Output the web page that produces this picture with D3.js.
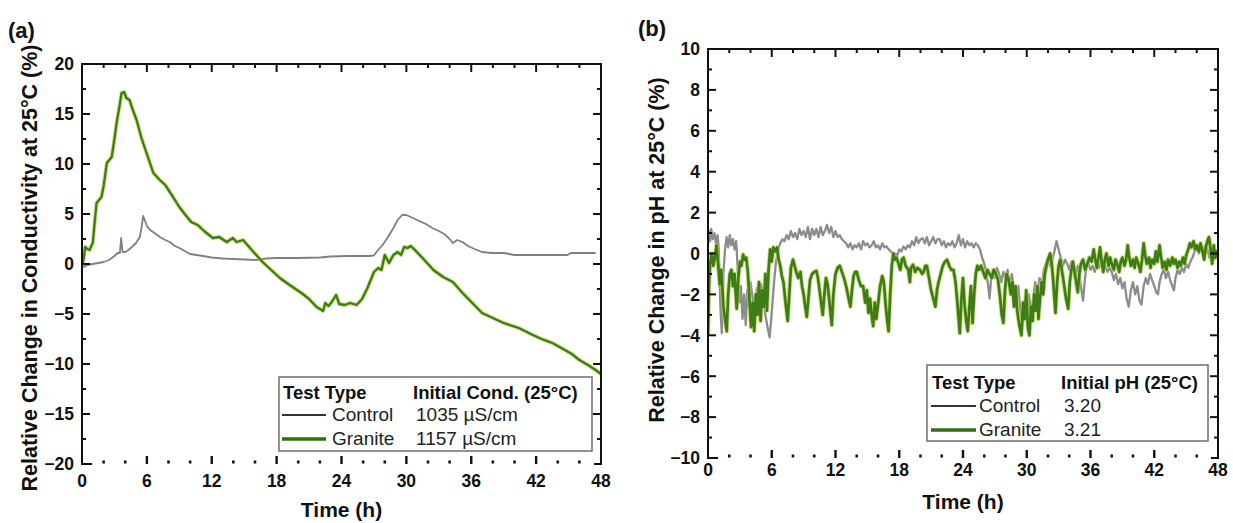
<!DOCTYPE html>
<html>
<head>
<meta charset="utf-8">
<script src="https://cdn.jsdelivr.net/npm/d3@7"></script>
<style>
  body { margin: 0; background: #fff; }
  svg { display: block; font-family: "Liberation Sans", Arial, Helvetica, sans-serif; }
</style>
</head>
<body>
<svg id="chart" width="1233" height="523"></svg>
<script>
// ---- tick values ----
const hourTicks = [0, 6, 12, 18, 24, 30, 36, 42, 48];
const condTicks = [20, 15, 10, 5, 0, -5, -10, -15, -20];
const phTicks = [10, 8, 6, 4, 2, 0, -2, -4, -6, -8, -10];

// ---- (a) relative change in conductivity, [time h, %] ----
const condControl = [
  [0,0.0],[0.2,-0.3],[0.5,-0.1],[1.0,0.0],[1.5,0.1],[2.0,0.2],[2.5,0.4],[3.0,0.8],[3.3,1.1],[3.5,1.1],
  [3.62,2.6],[3.75,1.2],[4.0,1.2],[4.3,1.4],[4.6,1.7],[5.0,2.1],[5.35,2.7],[5.5,3.6],[5.66,4.8],[5.8,4.4],
  [6.0,3.8],[6.3,3.4],[6.7,3.1],[7.2,2.7],[7.7,2.4],[8.1,2.2],[8.6,1.8],[9.0,1.6],[9.5,1.3],[10.0,1.0],
  [10.6,0.9],[11.2,0.8],[12.0,0.65],[13.0,0.55],[14.0,0.5],[15.0,0.45],[16.1,0.4],[17.0,0.55],[18.0,0.6],
  [20.0,0.6],[22.0,0.65],[23.0,0.75],[24.5,0.8],[26.5,0.8],[27.0,0.85],[27.3,1.3],[27.8,1.9],[28.3,2.7],
  [28.8,3.6],[29.2,4.4],[29.6,4.9],[30.0,4.9],[30.6,4.6],[31.2,4.3],[31.8,4.0],[32.4,3.6],[33.0,3.3],
  [33.5,3.0],[34.0,2.5],[34.3,2.1],[34.7,2.4],[35.2,2.2],[35.7,1.8],[36.3,1.5],[37.0,1.2],[37.9,1.1],
  [39.0,1.1],[39.5,1.0],[40.0,0.9],[42.0,0.9],[44.0,0.9],[44.9,0.9],[45.2,1.1],[46.5,1.1],[47.5,1.1]
];
const condGranite = [
  [0,-0.3],[0.15,0.5],[0.3,1.7],[0.5,1.5],[0.7,1.4],[0.9,1.9],[1.0,2.1],[1.2,4.5],[1.35,6.1],[1.8,6.7],
  [2.0,7.8],[2.3,10.1],[2.75,10.7],[3.0,12.5],[3.2,14.1],[3.5,16.0],[3.66,17.1],[3.9,17.2],[4.1,16.6],
  [4.4,16.4],[4.7,15.4],[5.05,14.4],[5.5,12.6],[6.0,11.0],[6.6,9.1],[7.2,8.4],[7.7,7.9],[8.3,6.9],
  [9.0,5.7],[9.5,5.0],[10.1,4.2],[10.7,3.9],[11.4,3.2],[12.1,2.6],[12.7,2.7],[13.1,2.4],[13.4,2.2],
  [13.95,2.6],[14.3,2.2],[14.9,2.4],[15.3,1.9],[15.7,1.4],[16.2,0.8],[16.7,0.2],[17.5,-0.6],[18.3,-1.4],
  [19.2,-2.1],[20.3,-2.9],[21.0,-3.5],[21.7,-4.3],[22.3,-4.7],[22.5,-3.9],[22.8,-4.2],[23.1,-3.8],
  [23.5,-3.1],[23.8,-4.0],[24.3,-4.1],[24.8,-3.9],[25.4,-4.1],[25.9,-3.5],[26.4,-2.4],[27.0,-0.8],
  [27.4,-0.4],[27.7,-0.6],[28.0,0.9],[28.4,0.1],[28.8,0.9],[29.2,1.2],[29.5,0.9],[29.8,1.7],[30.1,1.6],
  [30.4,1.8],[30.7,1.5],[31.5,0.6],[32.5,-0.6],[33.4,-1.3],[34.3,-1.8],[35.2,-2.9],[36.1,-3.9],
  [37.0,-4.9],[38.0,-5.4],[39.0,-5.9],[40.4,-6.4],[41.5,-7.0],[42.5,-7.5],[43.5,-7.9],[44.5,-8.5],
  [45.3,-9.0],[46.0,-9.6],[46.8,-10.1],[47.5,-10.6],[48.0,-11.0]
];

// ---- (b) relative change in pH, [time h, %] ----
const phControl = [
  [0.0,0.4],[0.1,1.1],[0.2,0.6],[0.3,1.2],[0.45,0.7],[0.6,1.0],[0.75,0.5],[0.9,0.9],[1.0,0.3],[1.1,-1.5],
  [1.2,-3.0],[1.3,-3.9],[1.45,-1.0],[1.6,0.2],[1.75,0.8],[1.9,0.3],[2.05,0.9],[2.2,0.4],[2.35,0.7],[2.5,0.2],
  [2.65,0.6],[2.8,-0.8],[2.95,-2.4],[3.1,-1.6],[3.25,-3.2],[3.4,-2.0],[3.55,-3.5],[3.7,-1.8],[3.85,-2.6],
  [4.0,-1.4],[4.2,-2.2],[4.4,-2.8],[4.6,-1.7],[4.8,-2.4],[5.0,-1.5],[5.2,-2.1],[5.4,-3.0],[5.6,-3.6],
  [5.8,-4.1],[5.95,-3.2],[6.1,-2.2],[6.25,-1.2],[6.4,-0.4],[6.6,0.2],[6.8,0.5],[7.0,0.7],[7.2,0.6],[7.4,0.9],
  [7.6,0.7],[7.8,1.1],[8.0,0.8],[8.2,1.0],[8.4,0.7],[8.6,1.2],[8.8,0.9],[9.0,1.1],[9.2,0.8],[9.4,1.3],
  [9.6,0.7],[9.8,1.2],[10.0,0.9],[10.2,1.2],[10.4,0.8],[10.6,1.3],[10.8,0.9],[11.0,1.1],[11.2,1.4],
  [11.4,1.0],[11.6,1.3],[11.8,0.8],[12.0,1.1],[12.2,0.8],[12.4,0.9],[12.6,0.7],[12.8,0.6],[13.0,0.5],
  [13.2,0.3],[13.4,0.5],[13.6,0.2],[13.8,0.4],[14.0,0.3],[14.2,0.5],[14.4,0.2],[14.6,0.6],[14.8,0.4],
  [15.0,0.5],[15.2,0.3],[15.4,0.4],[15.6,0.6],[15.8,0.3],[16.0,0.4],[16.2,0.2],[16.4,0.5],[16.6,0.3],
  [16.8,0.35],[17.0,0.2],[17.3,0.05],[17.6,0.0],[17.8,-0.1],[18.0,0.2],[18.2,0.1],[18.4,0.35],[18.6,0.2],
  [18.8,0.4],[19.0,0.3],[19.2,0.6],[19.4,0.4],[19.6,0.8],[19.8,0.5],[20.0,0.7],[20.2,0.75],[20.4,0.5],
  [20.6,0.8],[20.8,0.4],[21.0,0.6],[21.2,0.8],[21.4,0.5],[21.6,0.7],[21.8,0.7],[22.0,0.4],[22.2,0.6],
  [22.4,0.3],[22.6,0.5],[22.8,0.4],[23.0,0.6],[23.2,0.3],[23.4,0.5],[23.6,0.9],[23.8,0.4],[24.0,0.7],
  [24.2,0.3],[24.4,0.6],[24.6,0.4],[24.8,0.5],[25.0,0.3],[25.2,0.5],[25.4,0.4],[25.6,0.2],[25.8,-0.2],
  [26.0,-0.5],[26.2,-1.0],[26.35,-1.5],[26.5,-2.2],[26.65,-1.2],[26.8,-0.8],[27.0,-1.2],[27.2,-0.7],
  [27.4,-1.0],[27.6,-1.4],[27.8,-0.9],[28.0,-1.2],[28.2,-0.8],[28.4,-1.6],[28.6,-1.0],[28.8,-1.8],
  [29.0,-2.4],[29.2,-1.6],[29.4,-2.8],[29.6,-3.5],[29.8,-2.6],[30.0,-3.2],[30.2,-2.0],[30.4,-3.0],
  [30.6,-2.2],[30.8,-1.4],[31.0,-2.0],[31.2,-1.2],[31.4,-1.6],[31.6,-0.8],[31.8,-0.5],[32.0,-0.2],
  [32.2,-0.6],[32.4,-0.3],[32.6,0.1],[32.8,0.6],[33.0,0.2],[33.2,-0.2],[33.4,-0.6],[33.6,-0.3],[33.8,-0.5],
  [34.0,-0.8],[34.2,-0.4],[34.4,-0.7],[34.6,-1.0],[34.8,-0.6],[35.0,-1.2],[35.15,-1.8],[35.3,-2.3],
  [35.45,-1.4],[35.6,-0.7],[35.8,-0.5],[36.0,-0.8],[36.2,-0.6],[36.4,-0.9],[36.6,-0.5],[36.8,-0.7],
  [37.0,-0.4],[37.2,-0.8],[37.4,-0.6],[37.6,-0.9],[37.8,-0.7],[38.0,-0.9],[38.2,-1.3],[38.4,-1.0],
  [38.6,-1.5],[38.8,-1.2],[39.0,-1.7],[39.2,-1.4],[39.4,-2.2],[39.6,-2.6],[39.8,-1.8],[40.0,-1.4],
  [40.2,-2.0],[40.4,-1.6],[40.6,-2.3],[40.8,-2.5],[41.0,-1.6],[41.2,-1.2],[41.4,-1.5],[41.6,-1.0],
  [41.8,-1.3],[42.0,-1.6],[42.2,-1.9],[42.35,-2.0],[42.5,-1.4],[42.7,-1.0],[42.9,-0.8],[43.1,-1.2],
  [43.3,-0.9],[43.5,-1.3],[43.7,-1.6],[43.85,-1.8],[44.0,-1.2],[44.2,-0.8],[44.4,-1.0],[44.6,-0.7],
  [44.8,-0.9],[45.0,-0.5],[45.2,-0.7],[45.4,-0.4],[45.6,-0.2],[45.8,0.1],[46.0,0.3],[46.2,0.0],[46.4,0.3],
  [46.6,0.1],[46.8,0.4],[47.0,0.2],[47.2,-0.2],[47.4,0.1],[47.6,-0.3],[47.8,0.0],[48.0,-0.2]
];
const phGranite = [
  [0.0,-4.0],[0.1,-1.5],[0.2,-0.5],[0.35,0.0],[0.5,-0.6],[0.65,-0.2],[0.8,0.4],[0.95,-0.5],[1.1,-1.5],
  [1.25,-0.8],[1.45,-2.6],[1.6,-3.2],[1.76,-3.8],[1.9,-2.0],[2.05,-1.0],[2.2,-0.8],[2.35,-1.6],[2.5,-1.0],
  [2.7,-2.7],[2.85,-1.2],[3.0,-0.4],[3.15,-0.6],[3.3,-0.05],[3.45,-0.3],[3.6,-0.2],[3.75,-0.9],[3.9,-2.2],
  [4.05,-3.6],[4.2,-2.4],[4.35,-3.8],[4.5,-2.0],[4.65,-3.0],[4.8,-1.4],[4.95,-3.3],[5.1,-1.8],[5.25,-2.6],
  [5.4,-1.0],[5.55,-2.8],[5.7,-0.8],[5.85,0.2],[6.0,-0.4],[6.15,0.3],[6.3,0.1],[6.5,0.3],[6.65,-0.3],
  [6.8,-0.6],[6.95,-1.1],[7.1,-1.4],[7.3,-2.4],[7.5,-3.3],[7.65,-2.0],[7.8,-0.7],[8.0,-0.3],[8.15,-0.6],
  [8.3,-0.9],[8.5,-1.2],[8.7,-0.9],[8.85,-1.6],[9.0,-2.0],[9.15,-2.6],[9.3,-3.1],[9.45,-2.2],[9.6,-1.3],
  [9.8,-1.0],[10.0,-0.9],[10.2,-0.85],[10.35,-1.2],[10.5,-1.8],[10.65,-2.4],[10.8,-3.0],[10.95,-2.0],
  [11.1,-1.2],[11.25,-1.5],[11.4,-2.2],[11.55,-3.0],[11.65,-3.5],[11.8,-2.0],[12.0,-1.0],[12.2,-0.7],
  [12.4,-0.6],[12.6,-0.9],[12.8,-1.2],[13.0,-1.6],[13.2,-2.1],[13.4,-2.6],[13.55,-1.8],[13.7,-1.1],
  [13.85,-0.9],[14.0,-0.9],[14.2,-1.3],[14.4,-1.6],[14.6,-1.6],[14.8,-2.4],[14.95,-1.8],[15.1,-2.9],
  [15.25,-2.2],[15.4,-3.0],[15.55,-3.55],[15.7,-2.4],[15.85,-3.2],[16.0,-2.5],[16.2,-1.6],[16.4,-1.1],
  [16.55,-1.4],[16.7,-2.4],[16.85,-3.2],[17.0,-3.8],[17.15,-2.0],[17.3,-0.6],[17.45,0.0],[17.6,-0.3],
  [17.75,-0.2],[17.9,-0.45],[18.1,-0.8],[18.25,-0.3],[18.4,-0.2],[18.6,-0.6],[18.85,-0.8],[19.0,-1.4],
  [19.1,-0.7],[19.3,-0.55],[19.5,-0.9],[19.7,-0.7],[19.95,-0.8],[20.15,-1.0],[20.3,-0.9],[20.45,-0.6],
  [20.6,-0.6],[20.8,-1.2],[21.0,-1.8],[21.2,-2.2],[21.4,-2.6],[21.55,-1.8],[21.7,-1.4],[21.9,-1.0],
  [22.1,-0.6],[22.3,-0.4],[22.5,-0.3],[22.7,-0.6],[22.9,-0.8],[23.1,-0.8],[23.3,-1.4],[23.5,-2.6],
  [23.7,-3.9],[23.85,-2.2],[24.0,-1.2],[24.15,-2.5],[24.3,-3.3],[24.45,-3.8],[24.6,-2.6],[24.75,-1.6],
  [24.9,-3.4],[25.05,-2.0],[25.2,-1.0],[25.35,-0.6],[25.5,-0.8],[25.7,-0.6],[25.9,-0.9],[26.1,-1.2],
  [26.3,-0.8],[26.5,-1.0],[26.7,-1.2],[26.9,-0.8],[27.1,-1.0],[27.3,-1.3],[27.5,-2.2],[27.65,-3.0],
  [27.8,-3.4],[27.95,-1.8],[28.1,-1.0],[28.3,-1.3],[28.5,-2.0],[28.65,-1.4],[28.8,-2.6],[28.95,-1.6],
  [29.1,-2.8],[29.3,-3.5],[29.5,-4.0],[29.65,-2.4],[29.8,-3.2],[29.95,-1.8],[30.1,-3.6],[30.25,-4.0],
  [30.4,-2.6],[30.55,-3.3],[30.7,-2.0],[30.85,-2.8],[31.0,-1.6],[31.1,-3.2],[31.25,-2.2],[31.4,-1.4],
  [31.55,-2.0],[31.7,-1.0],[31.85,-0.6],[32.0,-0.3],[32.2,0.0],[32.35,-0.5],[32.5,-1.4],[32.7,-2.9],
  [32.85,-1.5],[33.0,-0.6],[33.15,-0.3],[33.3,-0.8],[33.5,-1.5],[33.7,-2.2],[33.9,-2.7],[34.05,-1.4],
  [34.2,-0.8],[34.35,-0.4],[34.5,-0.9],[34.65,-1.4],[34.8,-1.9],[34.95,-1.0],[35.1,-0.5],[35.3,-0.3],
  [35.5,-0.8],[35.7,-0.5],[35.9,-0.2],[36.1,-0.4],[36.3,0.2],[36.45,-0.3],[36.6,-0.7],[36.75,-0.2],
  [36.9,0.3],[37.05,-0.4],[37.2,-0.9],[37.35,-0.3],[37.5,0.0],[37.7,-0.6],[37.85,-0.2],[38.0,-0.5],
  [38.2,-0.8],[38.35,-0.3],[38.5,-0.5],[38.7,-0.9],[38.85,-0.4],[39.0,-0.2],[39.2,-0.6],[39.35,-0.3],
  [39.5,0.4],[39.65,-0.2],[39.8,-0.6],[40.0,-0.3],[40.15,-0.7],[40.3,-0.2],[40.5,-0.5],[40.7,-0.9],
  [40.85,-0.3],[41.0,0.5],[41.15,-0.1],[41.3,-0.5],[41.5,-0.2],[41.65,-0.7],[41.8,-0.3],[42.0,-0.5],
  [42.15,0.1],[42.3,-0.4],[42.5,0.4],[42.65,-0.2],[42.8,-0.7],[43.0,-0.4],[43.15,-0.8],[43.3,-0.3],
  [43.5,-0.6],[43.7,-0.2],[43.85,-0.5],[44.0,-0.3],[44.2,-0.7],[44.35,-0.4],[44.5,-0.6],[44.7,-0.2],
  [44.85,-0.5],[45.0,-0.1],[45.2,0.2],[45.35,0.5],[45.5,0.3],[45.7,0.6],[45.85,0.2],[46.0,0.4],[46.2,0.1],
  [46.35,0.5],[46.5,0.2],[46.7,-0.3],[46.85,0.3],[47.0,0.6],[47.15,0.8],[47.3,0.2],[47.45,-0.5],
  [47.6,0.4],[47.75,-0.2],[47.9,0.1],[48.0,-0.1]
];

// ---- legend rows ----
const condLegend = [
  { name: "Control", value: "1035 \u00b5S/cm" },
  { name: "Granite", value: "1157 \u00b5S/cm" }
];
const phLegend = [
  { name: "Control", value: "3.20" },
  { name: "Granite", value: "3.21" }
];

const svg = d3.select("#chart");
const fmt = d => d < 0 ? "\u2212" + Math.abs(d) : String(d);

const GREEN_HALO = "#b9d64a";
const GREEN = "#3e7c17";

function drawPanel(p) {
  const x = d3.scaleLinear().domain([0, 48]).range([p.left, p.right]);
  const y = d3.scaleLinear().domain([p.yTicks[p.yTicks.length - 1], p.yTicks[0]]).range([p.bottom, p.top]);
  const g = svg.append("g");

  const clipId = "clip-" + p.id;
  svg.append("clipPath").attr("id", clipId)
    .append("rect").attr("x", p.left).attr("y", p.top)
    .attr("width", p.right - p.left).attr("height", p.bottom - p.top);

  const line = d3.line().x(d => x(d[0])).y(d => y(d[1]));
  const plot = g.append("g").attr("clip-path", `url(#${clipId})`);

  // control series
  plot.append("path").datum(p.control).attr("d", line)
    .attr("fill", "none").attr("stroke", p.controlColor).attr("stroke-width", p.controlWidth)
    .attr("stroke-linejoin", "round");
  // granite series: light halo + dark green core
  plot.append("path").datum(p.granite).attr("d", line)
    .attr("fill", "none").attr("stroke", GREEN_HALO).attr("stroke-opacity", 0.7)
    .attr("stroke-width", p.graniteWidth + 1.8).attr("stroke-linejoin", "round");
  plot.append("path").datum(p.granite).attr("d", line)
    .attr("fill", "none").attr("stroke", GREEN).attr("stroke-width", p.graniteWidth)
    .attr("stroke-linejoin", "round");

  // frame: left, top, right spines; bottom only at the corners
  const frame = g.append("g").attr("stroke", "#111").attr("stroke-width", 2).attr("fill", "none");
  frame.append("path").attr("d",
    `M${p.left + 10},${p.bottom} L${p.left},${p.bottom} L${p.left},${p.top} L${p.right},${p.top} L${p.right},${p.bottom} L${p.right - 7},${p.bottom}`);

  // x ticks: major every 6 h, minor every 2 h
  const hourMinor = d3.range(0, 49, 2).filter(h => h % 6 !== 0);
  const tk = g.append("g").attr("stroke", "#111");
  hourTicks.forEach(h => {
    if (h > 0 && h < 48) {
      tk.append("line").attr("x1", x(h)).attr("x2", x(h)).attr("y1", p.top).attr("y2", p.top + 8).attr("stroke-width", 2);
      tk.append("line").attr("x1", x(h)).attr("x2", x(h)).attr("y1", p.bottom).attr("y2", p.bottom - 8).attr("stroke-width", 2.4);
    }
  });
  hourMinor.forEach(h => {
    tk.append("line").attr("x1", x(h)).attr("x2", x(h)).attr("y1", p.top).attr("y2", p.top + 4).attr("stroke-width", 2);
    tk.append("line").attr("x1", x(h)).attr("x2", x(h)).attr("y1", p.bottom - 0.5).attr("y2", p.bottom - 3.5).attr("stroke-width", 2.6);
  });

  // y ticks: major on labels, minor halfway
  const yMin = p.yTicks[p.yTicks.length - 1], yMax = p.yTicks[0];
  const step = p.yTicks[0] - p.yTicks[1];
  p.yTicks.forEach(v => {
    if (v > yMin && v < yMax) {
      tk.append("line").attr("x1", p.left).attr("x2", p.left + 8).attr("y1", y(v)).attr("y2", y(v)).attr("stroke-width", 2);
      tk.append("line").attr("x1", p.right).attr("x2", p.right - 8).attr("y1", y(v)).attr("y2", y(v)).attr("stroke-width", 2);
    }
    const m = v - step / 2;
    if (m > yMin) {
      tk.append("line").attr("x1", p.left).attr("x2", p.left + 4).attr("y1", y(m)).attr("y2", y(m)).attr("stroke-width", 2);
      tk.append("line").attr("x1", p.right).attr("x2", p.right - 4).attr("y1", y(m)).attr("y2", y(m)).attr("stroke-width", 2);
    }
  });

  // tick labels
  const lab = g.append("g").attr("font-weight", "bold").attr("font-size", 17.5).attr("fill", "#111");
  p.yTicks.forEach(v => {
    lab.append("text").attr("x", p.left - 8).attr("y", y(v)).attr("dy", "0.36em")
      .attr("text-anchor", "end").text(fmt(v));
  });
  hourTicks.forEach(h => {
    lab.append("text").attr("x", x(h)).attr("y", p.xLabelY).attr("text-anchor", "middle").text(h);
  });

  // axis titles
  g.append("text").attr("x", (p.left + p.right) / 2).attr("y", p.xTitleY)
    .attr("text-anchor", "middle").attr("font-weight", "bold").attr("font-size", 21).attr("fill", "#111")
    .text("Time (h)");
  g.append("text").attr("transform", `translate(${p.yTitleX},${p.yTitleY}) rotate(-90)`)
    .attr("text-anchor", "middle").attr("font-weight", "bold").attr("font-size", 21.5).attr("fill", "#111")
    .text(p.yTitle);

  // panel letter
  g.append("text").attr("x", p.letterX).attr("y", p.letterY)
    .attr("font-weight", "bold").attr("font-size", 22).attr("fill", "#111").text(p.letter);

  // legend
  const L = p.legend;
  const lg = g.append("g");
  lg.append("rect").attr("x", L.x).attr("y", L.y).attr("width", L.w).attr("height", L.h)
    .attr("fill", "#fff").attr("stroke", "#777").attr("stroke-width", 1.6);
  lg.append("text").attr("x", L.col1).attr("y", L.rows[0]).attr("font-weight", "bold").attr("font-size", 18.5)
    .attr("fill", "#111").text("Test Type");
  lg.append("text").attr("x", L.col3).attr("y", L.rows[0]).attr("font-weight", "bold").attr("font-size", 18.5)
    .attr("fill", "#111").text(L.header);
  const swatch = [
    { color: "#333", width: 2 },
    { color: "#2f7010", width: 3.4 }
  ];
  p.legendRows.forEach((r, i) => {
    const by = L.rows[i + 1];
    lg.append("line").attr("x1", L.col1 - 1).attr("x2", L.lineEnd).attr("y1", by - 6).attr("y2", by - 6)
      .attr("stroke", swatch[i].color).attr("stroke-width", swatch[i].width);
    lg.append("text").attr("x", L.col2).attr("y", by).attr("font-size", 19).attr("fill", "#222").text(r.name);
    lg.append("text").attr("x", L.col3 + 3).attr("y", by).attr("font-size", 19).attr("fill", "#222").text(r.value);
  });
}

drawPanel({
  id: "a", letter: "(a)", letterX: 8, letterY: 38,
  left: 82, right: 601, top: 64, bottom: 464,
  yTicks: condTicks, control: condControl, granite: condGranite,
  controlColor: "#808080", controlWidth: 1.8, graniteWidth: 2.3,
  xLabelY: 487, xTitleY: 517, yTitleX: 37, yTitleY: 268,
  yTitle: "Relative Change in Conductivity at 25\u00b0C (%)",
  legendRows: condLegend,
  legend: { x: 279, y: 377, w: 313, h: 74, col1: 283, col2: 332, col3: 413, lineEnd: 326,
            rows: [399, 421, 445], header: "Initial Cond. (25\u00b0C)" }
});

drawPanel({
  id: "b", letter: "(b)", letterX: 638, letterY: 36,
  left: 708, right: 1218, top: 49, bottom: 458,
  yTicks: phTicks, control: phControl, granite: phGranite,
  controlColor: "#8c8c8c", controlWidth: 2.3, graniteWidth: 2.7,
  xLabelY: 476, xTitleY: 509, yTitleX: 664, yTitleY: 250,
  yTitle: "Relative Change in pH at 25\u00b0C (%)",
  legendRows: phLegend,
  legend: { x: 927, y: 365, w: 281, h: 76, col1: 932, col2: 979, col3: 1061, lineEnd: 976,
            rows: [389, 412, 436], header: "Initial pH (25\u00b0C)" }
});
</script>
</body>
</html>
